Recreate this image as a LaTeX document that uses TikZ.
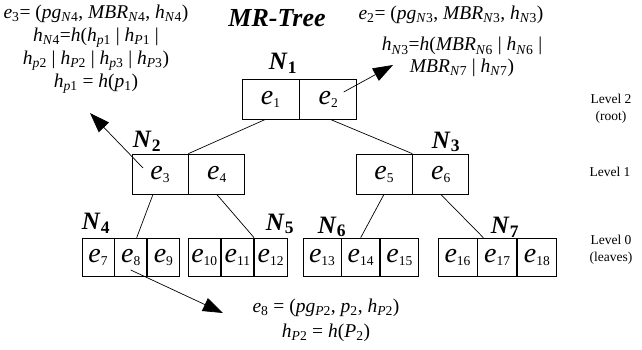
\documentclass[tikz,border=0pt]{standalone}
\usepackage{fontspec}
\setmainfont{Liberation Serif}
\usetikzlibrary{positioning,arrows.meta}

\newcommand{\ent}[1]{\textit{e}\textsubscript{#1}}
\newcommand{\cellent}[1]{\textit{e}\raisebox{-3pt}{\fontsize{13.5}{14}\selectfont#1}}
\newcommand{\isub}[2]{\textit{#1}\textsubscript{#2}}
\newcommand{\nname}[1]{\textbf{\textit{N}\textsubscript{#1}}}

\begin{document}
\begin{tikzpicture}[x=1pt, y=-1pt, line width=0.7pt,
  cell/.style={draw, minimum width=#1, minimum height=40pt, inner sep=0pt, font=\fontsize{28}{30}\selectfont},
  leaf/.style={draw, minimum width=#1, minimum height=38pt, inner sep=0pt, font=\fontsize{28}{30}\selectfont},
  nlabel/.style={inner sep=0pt, font=\fontsize{25}{26}\selectfont},
  note/.style={align=center, inner sep=0pt, font=\fontsize{19.5}{23}\selectfont},
  lvl/.style={align=center, inner sep=0pt, font=\fontsize{13.5}{17}\selectfont},
  link/.style={draw},
  ptr/.style={-{Triangle[length=20pt,width=14pt]}}]
\useasboundingbox (0,0) rectangle (642,349);

% title
\node[inner sep=0pt, font=\fontsize{26}{28}\selectfont\bfseries\itshape] (title) at (277,18) {MR-Tree};

% level 2 (root)
\node[cell=57pt] (e1) at (270.5,99) {\cellent{1}};
\node[cell=57pt, right=0pt of e1] (e2) {\cellent{2}};
\node[nlabel] (lN1) at (283,63) {\nname{1}};

% level 1
\node[cell=56pt] (e3) at (160,174) {\cellent{3}};
\node[cell=56pt, right=0pt of e3] (e4) {\cellent{4}};
\node[nlabel] (lN2) at (147,141) {\nname{2}};
\node[cell=56pt] (e5) at (384,174) {\cellent{5}};
\node[cell=56pt, right=0pt of e5] (e6) {\cellent{6}};
\node[nlabel] (lN3) at (446,142) {\nname{3}};

% level 0 (leaves)
\node[leaf=32pt] (e7) at (98,257) {\cellent{7}};
\node[leaf=32pt, right=0pt of e7] (e8) {\cellent{8}};
\node[leaf=32pt, right=0pt of e8] (e9) {\cellent{9}};
\node[nlabel] (lN4) at (96,223) {\nname{4}};
\node[leaf=32.5pt] (e10) at (204.25,257) {\cellent{10}};
\node[leaf=32.5pt, right=0pt of e10] (e11) {\cellent{11}};
\node[leaf=32.5pt, right=0pt of e11] (e12) {\cellent{12}};
\node[nlabel] (lN5) at (280,224) {\nname{5}};
\node[leaf=38pt] (e13) at (322,257) {\cellent{13}};
\node[leaf=38pt, right=0pt of e13] (e14) {\cellent{14}};
\node[leaf=38pt, right=0pt of e14] (e15) {\cellent{15}};
\node[nlabel] (lN6) at (332,227) {\nname{6}};
\node[leaf=39pt] (e16) at (457.5,257) {\cellent{16}};
\node[leaf=39pt, right=0pt of e16] (e17) {\cellent{17}};
\node[leaf=39pt, right=0pt of e17] (e18) {\cellent{18}};
\node[nlabel] (lN7) at (505,227) {\nname{7}};

% tree links
\draw[link] ([xshift=-5pt]e1.south) -- (e3.north east);
\draw[link] ([xshift=2pt]e2.south) -- (e5.north east);
\draw[link] ([xshift=-7pt]e3.south) -- ([xshift=6pt]e8.north);
\draw[link] (e4.south) -- (e12.north west);
\draw[link] (e5.south) -- (e14.north);
\draw[link] (e6.south) -- ([xshift=6pt]e17.north west);

% level names
\node[lvl] (lv2) at (611,109) {Level 2\\(root)};
\node[lvl] (lv1) at (610,172) {Level 1};
\node[lvl] (lv0) at (611,250) {Level 0\\(leaves)};

% entry contents
\node[note] (n3) at (96,49) {\ent{3}= (\isub{pg}{\textit{N}4}, \isub{MBR}{\textit{N}4}, \isub{h}{\textit{N}4})\\
  \isub{h}{\textit{N}4}=\textit{h}(\isub{h}{\textit{p}1} | \isub{h}{\textit{P}1} |\\
  \isub{h}{\textit{p}2} | \isub{h}{\textit{P}2} | \isub{h}{\textit{p}3} | \isub{h}{\textit{P}3})\\
  \isub{h}{\textit{p}1} = \textit{h}(\isub{p}{1})};
\node[note] (n2) at (451,15) {\ent{2}= (\isub{pg}{\textit{N}3}, \isub{MBR}{\textit{N}3}, \isub{h}{\textit{N}3})};
\node[note, font=\fontsize{19.5}{21.5}\selectfont] (n2b) at (462,57) {\isub{h}{\textit{N}3}=\textit{h}(\isub{MBR}{\textit{N}6} | \isub{h}{\textit{N}6} |\\
  \isub{MBR}{\textit{N}7} | \isub{h}{\textit{N}7})};
\node[note, font=\fontsize{19.5}{25}\selectfont] (n8) at (326,320) {\ent{8} = (\isub{pg}{\textit{P}2}, \isub{p}{2}, \isub{h}{\textit{P}2})\\
  \isub{h}{\textit{P}2} = \textit{h}(\isub{P}{2})};

% pointers to contents
\coordinate (t3) at (90,113);
\coordinate (t2) at (393,65);
\coordinate (t8) at (223,313);
\draw[ptr] ([shift={(-17pt,6pt)}]e3.center) -- (t3);
\draw[ptr] ([shift={(15.5pt,7pt)}]e2.center) -- (t2);
\draw[ptr] ([yshift=-13pt]e8.center) -- (t8);
\end{tikzpicture}
\end{document}
